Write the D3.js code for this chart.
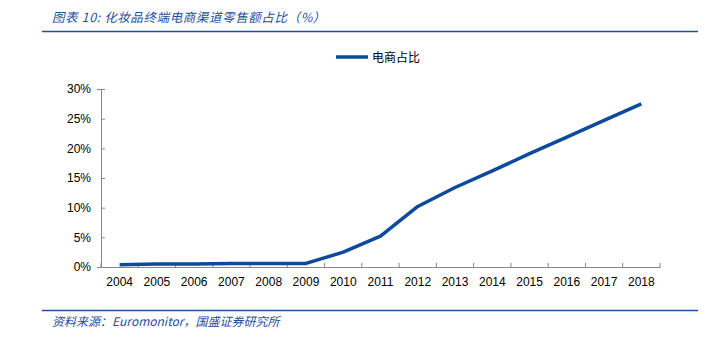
<!DOCTYPE html>
<html>
<head>
<meta charset="utf-8">
<script src="https://cdn.jsdelivr.net/npm/d3@7"></script>
<style>
  html, body { margin: 0; padding: 0; background: #fff; }
  svg { display: block; }
</style>
</head>
<body>
<svg id="chart" width="723" height="338"></svg>
<script>
// Share of cosmetics retail sales through e-commerce channels, by year
const years = ["2004","2005","2006","2007","2008","2009","2010","2011","2012","2013","2014","2015","2016","2017","2018"];
const shareValues = [0.4, 0.5, 0.5, 0.6, 0.6, 0.6, 2.5, 5.2, 10.2, 13.4, 16.2, 19.1, 21.9, 24.7, 27.5];
const yTicks = [0, 5, 10, 15, 20, 25, 30];
const seriesName = "电商占比";
const titleText = "图表 10:  化妆品终端电商渠道零售额占比（%）";
const sourceText = "资料来源：Euromonitor，国盛证券研究所";

const svg = d3.select("#chart");
const blue = "#0b4a9c";
const headBlue = "#1f4e9a";
const latin = "'Liberation Sans', Arial, sans-serif";
const cjk = "'Noto Sans CJK SC', 'Liberation Sans', sans-serif";

// header and footer rules
svg.append("line").attr("x1", 42).attr("x2", 698).attr("y1", 31.5).attr("y2", 31.5)
  .attr("stroke", headBlue).attr("stroke-width", 1.5);
svg.append("line").attr("x1", 42).attr("x2", 698).attr("y1", 310.5).attr("y2", 310.5)
  .attr("stroke", headBlue).attr("stroke-width", 1.5);

svg.append("text").attr("x", 52).attr("y", 22)
  .attr("font-family", cjk).attr("font-size", 12.5).attr("font-style", "italic")
  .attr("fill", headBlue).attr("letter-spacing", 0.6).text(titleText);

svg.append("text").attr("x", 52).attr("y", 326)
  .attr("font-family", cjk).attr("font-size", 12).attr("font-style", "italic")
  .attr("fill", headBlue).text(sourceText);

// plot area
const plotLeft = 101, plotRight = 660, plotTop = 89, plotBottom = 267;
const x = d3.scaleBand().domain(years).range([plotLeft, plotRight]).paddingInner(0).paddingOuter(0);
const y = d3.scaleLinear().domain([0, 30]).range([plotBottom, plotTop]);

const yAxis = svg.append("g").attr("transform", `translate(${plotLeft},0)`)
  .call(d3.axisLeft(y).tickValues(yTicks).tickFormat(d => d + "%").tickSize(4).tickPadding(6));
yAxis.select(".domain").attr("stroke", "#888");
yAxis.selectAll(".tick line").attr("stroke", "#888").attr("transform", "translate(4,0)");
yAxis.selectAll(".tick text").attr("font-family", latin).attr("font-size", 12).attr("fill", "#000");

const xAxis = svg.append("g").attr("transform", `translate(0,${plotBottom})`)
  .call(d3.axisBottom(x).tickSize(0).tickPadding(10));
xAxis.select(".domain").attr("stroke", "#888");
xAxis.selectAll(".tick text").attr("font-family", latin).attr("font-size", 12).attr("fill", "#000");
// category separators
xAxis.selectAll(".sep").data(d3.range(years.length + 1)).join("line")
  .attr("class", "sep")
  .attr("x1", i => plotLeft + i * x.step()).attr("x2", i => plotLeft + i * x.step())
  .attr("y1", 0).attr("y2", -4).attr("stroke", "#888");

const line = d3.line()
  .x((d, i) => x(years[i]) + x.bandwidth() / 2)
  .y(d => y(d));
svg.append("path").datum(shareValues)
  .attr("d", line).attr("fill", "none")
  .attr("stroke", blue).attr("stroke-width", 3.5).attr("stroke-linejoin", "round");

// legend
const lg = svg.append("g").attr("transform", "translate(336,57)");
lg.append("line").attr("x1", 0).attr("x2", 32).attr("y1", 0).attr("y2", 0)
  .attr("stroke", blue).attr("stroke-width", 3.5);
lg.append("text").attr("x", 36).attr("y", 4.5)
  .attr("font-family", cjk).attr("font-size", 12).attr("fill", "#000").text(seriesName);
</script>
</body>
</html>
